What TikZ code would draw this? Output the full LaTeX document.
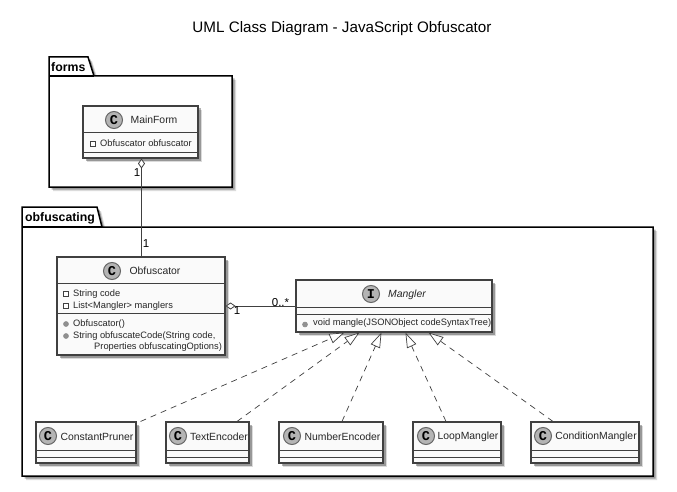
\documentclass[tikz,border=0pt]{standalone}
\usepackage{fontspec}
\setmainfont{Liberation Sans}
\setmonofont{Liberation Mono}
\usetikzlibrary{shadows,calc,arrows.meta}
\definecolor{umlline}{HTML}{404040}
\definecolor{umlfill}{HTML}{FAFAFA}
\definecolor{umlspot}{HTML}{B4B4B4}
\tikzset{
    boxshadow/.style={drop shadow={shadow xshift=4pt,shadow yshift=-4pt,fill=black,opacity=.14},
                      drop shadow={shadow xshift=2.5pt,shadow yshift=-2.5pt,fill=black,opacity=.3}},
    classbox/.style={draw=umlline,fill=umlfill,line width=1.1pt,inner sep=0pt,boxshadow},
    sepline/.style={draw=umlline,line width=1pt},
    spot/.style={circle,draw=umlline!80,fill=umlspot,line width=1pt,minimum size=17pt,inner sep=0pt,font=\ttfamily\bfseries\fontsize{13.5}{13.5}\selectfont},
    classname/.style={inner sep=0pt,text=black!85,font=\fontsize{10.4}{12}\selectfont},
    member/.style={anchor=west,inner sep=0pt,text=black!85,font=\fontsize{9.3}{11.4}\selectfont,align=left},
    privmark/.style={draw=umlline,fill=white,line width=.6pt,inner sep=0pt,minimum size=4.5pt},
    pubmark/.style={circle,draw=umlline!60,fill=umlspot!80!black,line width=.5pt,inner sep=0pt,minimum size=5pt},
    pkgbox/.style={draw=black,fill=white,line width=1.5pt,line join=miter},
    pkgname/.style={anchor=west,inner sep=0pt,font=\bfseries\fontsize{12.3}{14}\selectfont},
    multi/.style={inner sep=0pt,text=black,font=\fontsize{11.5}{12}\selectfont},
    assoc/.style={draw=umlline,line width=.8pt,{Diamond[open,fill=white,length=10pt,width=7pt]}-},
    realize/.style={draw=umlline,line width=.7pt,dash pattern=on 6pt off 5pt,-{Triangle[open,fill=white,length=15pt,width=10pt]}}
}
\begin{document}
\begin{tikzpicture}[x=1pt,y=-1pt]
    \useasboundingbox (0,0) rectangle (677,492);
    \node[font=\fontsize{15.2}{17}\selectfont] (title) at (342,29) {UML Class Diagram - JavaScript Obfuscator};

    % Packages
    \draw[pkgbox,boxshadow] (49,57) -- (88,57) -- (94,76) -- (232,76) -- (232,187) -- (49,187) -- cycle;
    \draw[pkgbox] (49,76) -- (94,76);
    \node[pkgname] (formsname) at (51,67.5) {forms};

    \draw[pkgbox,boxshadow] (22,207) -- (97,207) -- (102,227) -- (653,227) -- (653,476) -- (22,476) -- cycle;
    \draw[pkgbox] (22,227) -- (102,227);
    \node[pkgname] (obfname) at (25,218.5) {obfuscating};

    % MainForm
    \node[classbox,minimum width=115pt,minimum height=52pt] (mainform) at (140.5,132) {};
    \draw[sepline] (83,133) -- (198,133);
    \draw[sepline] (83,152) -- (198,152);
    \node[spot] (mainspot) at (114,120) {C};
    \node[classname] (mainname) at (154,120) {MainForm};
    \node[privmark] (mainmark) at (93,144) {};
    \node[member] (mainfield) at (100,143) {Obfuscator obfuscator};

    % Obfuscator
    \node[classbox,minimum width=168pt,minimum height=98pt] (obfuscator) at (141,306) {};
    \draw[sepline] (57,283) -- (225,283);
    \draw[sepline] (57,313) -- (225,313);
    \node[spot] (obfspot) at (112,271) {C};
    \node[classname] (obfname2) at (155,271) {Obfuscator};
    \node[privmark] (codemark) at (66,294) {};
    \node[member] (codefield) at (73,294) {String code};
    \node[privmark] (listmark) at (66,306) {};
    \node[member] (listfield) at (73,306) {List<Mangler> manglers};
    \node[pubmark] (ctormark) at (66,324) {};
    \node[member] (ctor) at (73,324) {Obfuscator()};
    \node[pubmark] (codemeth) at (66,336) {};
    \node[member] (obfmethod) at (73,341.5) {String obfuscateCode(String code,\\\hspace*{21pt}Properties obfuscatingOptions)};

    % Mangler
    \node[classbox,minimum width=196pt,minimum height=52pt] (mangler) at (394,306) {};
    \draw[sepline] (296,307) -- (492,307);
    \draw[sepline] (296,314) -- (492,314);
    \node[spot] (manglerspot) at (371,294) {I};
    \node[classname,font=\itshape\fontsize{10.4}{12}\selectfont] (manglername) at (407,294.5) {Mangler};
    \node[pubmark] (manglermark) at (305,324.5) {};
    \node[member] (manglermethod) at (313,323.5) {void mangle(JSONObject codeSyntaxTree)};

    % Implementations
    \node[classbox,minimum width=100pt,minimum height=41pt] (pruner) at (86,442.5) {};
    \draw[sepline] (36,450) -- (136,450);
    \draw[sepline] (36,457) -- (136,457);
    \node[spot] (prunerspot) at (48,436) {C};
    \node[classname] (prunername) at (97,436.5) {ConstantPruner};

    \node[classbox,minimum width=83pt,minimum height=41pt] (textenc) at (207.5,442.5) {};
    \draw[sepline] (166,450) -- (249,450);
    \draw[sepline] (166,457) -- (249,457);
    \node[spot] (textspot) at (178,436) {C};
    \node[classname] (textname) at (219,436.5) {TextEncoder};

    \node[classbox,minimum width=104pt,minimum height=41pt] (numenc) at (331,442.5) {};
    \draw[sepline] (279,450) -- (383,450);
    \draw[sepline] (279,457) -- (383,457);
    \node[spot] (numspot) at (292,436) {C};
    \node[classname] (numname) at (342.5,436.5) {NumberEncoder};

    \node[classbox,minimum width=88pt,minimum height=41pt] (loopm) at (457,442.5) {};
    \draw[sepline] (413,450) -- (501,450);
    \draw[sepline] (413,457) -- (501,457);
    \node[spot] (loopspot) at (426,436) {C};
    \node[classname] (loopname) at (468,436.5) {LoopMangler};

    \node[classbox,minimum width=108pt,minimum height=41pt] (condm) at (585,442.5) {};
    \draw[sepline] (531,450) -- (639,450);
    \draw[sepline] (531,457) -- (639,457);
    \node[spot] (condspot) at (543,436) {C};
    \node[classname] (condname) at (596,436.5) {ConditionMangler};

    % Connectors
    \draw[assoc] ($(mainform.south)+(1,0)$) -- ($(obfuscator.north)+(.5,0)$);
    \draw[assoc] (obfuscator.east) -- (mangler.west);
    \draw[realize] ($(pruner.north east)+(4,0)$) -- ($(mangler.south west)+(49,0)$);
    \draw[realize] ($(textenc.north)+(29.5,0)$) -- ($(mangler.south west)+(64,0)$);
    \draw[realize] ($(numenc.north)+(11,0)$) -- ($(mangler.south west)+(86,0)$);
    \draw[realize] ($(loopm.north)+(-11,0)$) -- ($(mangler.south west)+(110,0)$);
    \draw[realize] ($(condm.north)+(-32,0)$) -- ($(mangler.south west)+(133,0)$);

    % Multiplicities
    \node[multi] (onea) at (137,173) {1};
    \node[multi] (oneb) at (146,244) {1};
    \node[multi] (onec) at (237,311) {1};
    \node[multi] (many) at (280.5,302.5) {0..*};
\end{tikzpicture}
\end{document}
